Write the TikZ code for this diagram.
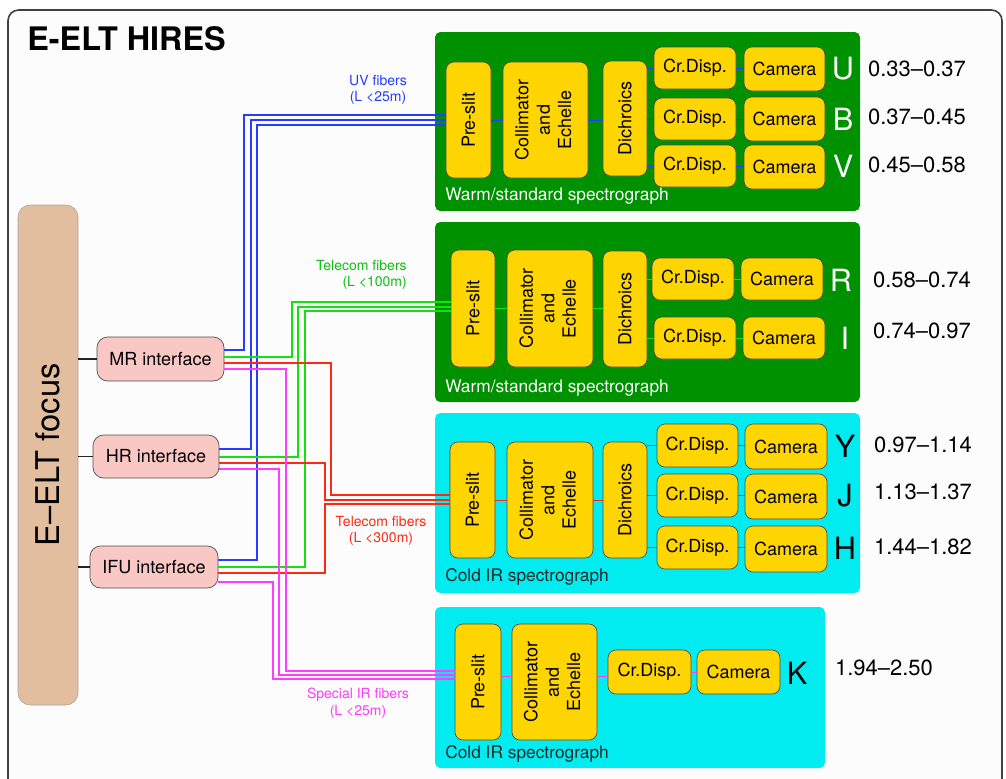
\documentclass[tikz,border=0pt]{standalone}
\usepackage{fontspec}
\setmainfont{TeX Gyre Heros}
\usepackage{graphicx}
\usetikzlibrary{calc}
\definecolor{ylw}{RGB}{255,213,0}
\definecolor{sgreen}{RGB}{0,145,0}
\definecolor{scyan}{RGB}{0,236,240}
\definecolor{ipink}{RGB}{250,200,196}
\definecolor{ftan}{RGB}{226,190,158}
\definecolor{fblue}{RGB}{40,60,255}
\definecolor{fgreen}{RGB}{20,225,20}
\definecolor{fred}{RGB}{255,40,20}
\definecolor{fmag}{RGB}{255,60,255}
\newcommand\mybox[7]{\node[#1, minimum width={(#4-#2)*0.75pt}, minimum height={(#5-#3)*0.75pt}] (#6) at ({(#2+#4)/2},{(#3+#5)/2}) {#7};}
\newcommand\vtxt[1]{\rotatebox{90}{#1}}
\begin{document}
\begin{tikzpicture}[x=0.75pt,y=-0.75pt,
  comp/.style={draw=black!70, line width=0.5pt, fill=ylw, rounded corners=6pt, inner sep=0pt, font=\fontsize{13.5}{16}\selectfont},
  specg/.style={fill=sgreen, rounded corners=4pt, inner sep=0pt},
  specc/.style={fill=scyan, rounded corners=4pt, inner sep=0pt},
  iface/.style={draw=black!70, line width=0.5pt, fill=ipink, rounded corners=8pt, inner sep=0pt, font=\fontsize{13.5}{16}\selectfont},
  focus/.style={draw=black!35, line width=0.4pt, fill=ftan, rounded corners=9pt, inner sep=0pt, font=\fontsize{24.5}{28}\selectfont},
  wlabel/.style={text=white, font=\fontsize{13}{15}\selectfont, inner sep=0pt, anchor=west},
  dlabel/.style={text=black!85, font=\fontsize{13}{15}\selectfont, inner sep=0pt, anchor=west},
  bigw/.style={text=white, font=\fontsize{23}{26}\selectfont, inner sep=0pt},
  bigk/.style={text=black, font=\fontsize{23}{26}\selectfont, inner sep=0pt},
  rng/.style={text=black, font=\fontsize{16.5}{19}\selectfont, inner sep=0pt},
  flabel/.style={font=\fontsize{10.5}{12.5}\selectfont, inner sep=0pt},
  fiber/.style={line width=1.2pt},
  iline/.style={line width=0.7pt},
  conn/.style={line width=1pt, black!85}
]
\useasboundingbox (0,0) rectangle (1006,778);
\clip (0,0) rectangle (1006,778);
\fill[white] (0,0) rectangle (1006,778);
\draw[black!75, line width=1.2pt, rounded corners=8pt, fill=black!1] (8,10) rectangle (1002,790);

% title
\node[font=\bfseries\fontsize{24.3}{28}\selectfont, inner sep=0pt, anchor=west] (ttl) at (27,39) {E-ELT HIRES};

% focus and interfaces
\mybox{focus}{18}{205}{78}{705}{foc}{\vtxt{E–ELT focus}}
\mybox{iface}{97}{337}{224}{381}{mr}{MR interface}
\mybox{iface}{93}{435}{219}{478}{hr}{HR interface}
\mybox{iface}{90}{546}{218}{588}{ifu}{IFU interface}
\draw[conn] (foc.east |- mr.west) -- (mr.west);
\draw[conn] (foc.east |- hr.west) -- (hr.west);
\draw[conn] (foc.east |- ifu.west) -- (ifu.west);

% spectrograph boxes
\mybox{specg}{435}{32}{860}{211}{s1}{}
\mybox{specg}{435}{222}{860}{402}{s2}{}
\mybox{specc}{435}{413}{860}{593}{s3}{}
\mybox{specc}{435}{607}{825}{768}{s4}{}
\node[wlabel] (s1l) at (445,196) {Warm/standard spectrograph};
\node[wlabel] (s2l) at (445,388) {Warm/standard spectrograph};
\node[dlabel] (s3l) at (445,577) {Cold IR spectrograph};
\node[dlabel] (s4l) at (445,754) {Cold IR spectrograph};

% box 1
\mybox{comp}{446}{62}{491}{178}{p1}{\vtxt{Pre-slit}}
\mybox{comp}{503}{62}{588}{178}{c1}{\vtxt{\begin{tabular}{@{}c@{}}Collimator\\and\\Echelle\end{tabular}}}
\mybox{comp}{603}{61}{647}{176}{d1}{\vtxt{Dichroics}}
\mybox{comp}{654}{47}{736}{89}{x1a}{Cr.Disp.}
\mybox{comp}{654}{98}{736}{140}{x1b}{Cr.Disp.}
\mybox{comp}{654}{145}{736}{187}{x1c}{Cr.Disp.}
\mybox{comp}{744}{47}{825}{91}{k1a}{Camera}
\mybox{comp}{744}{97}{825}{141}{k1b}{Camera}
\mybox{comp}{744}{145}{825}{189}{k1c}{Camera}
\node[bigw] (lu) at (843,69) {U};
\node[bigw] (lb) at (843,119) {B};
\node[bigw] (lv) at (843,166) {V};
\node[rng] (ru) at (917,69) {0.33–0.37};
\node[rng] (rb) at (917,117) {0.37–0.45};
\node[rng] (rv) at (917,165) {0.45–0.58};
\begin{scope}[iline, fblue]
\draw (p1.east |- 0,120) -- (c1.west |- 0,120);
\draw (c1.east |- 0,120) -- (d1.west |- 0,120);
\draw (d1.east |- x1a.west) -- (x1a.west);
\draw (d1.east |- x1b.west) -- (x1b.west);
\draw (d1.east |- x1c.west) -- (x1c.west);
\draw (x1a.east) -- (x1a.east -| k1a.west);
\draw (x1b.east) -- (x1b.east -| k1b.west);
\draw (x1c.east) -- (x1c.east -| k1c.west);
\end{scope}

% box 2
\mybox{comp}{451}{250}{495}{367}{p2}{\vtxt{Pre-slit}}
\mybox{comp}{507}{250}{593}{367}{c2}{\vtxt{\begin{tabular}{@{}c@{}}Collimator\\and\\Echelle\end{tabular}}}
\mybox{comp}{603}{251}{647}{367}{d2}{\vtxt{Dichroics}}
\mybox{comp}{652}{258}{734}{300}{x2a}{Cr.Disp.}
\mybox{comp}{654}{317}{736}{359}{x2b}{Cr.Disp.}
\mybox{comp}{741}{258}{823}{300}{k2a}{Camera}
\mybox{comp}{743}{317}{825}{359}{k2b}{Camera}
\node[bigw] (lr) at (841,280) {R};
\node[bigw] (li) at (845,338) {I};
\node[rng] (rr) at (922,280) {0.58–0.74};
\node[rng] (ri) at (922,331) {0.74–0.97};
\begin{scope}[iline, fgreen]
\draw (p2.east |- 0,308) -- (c2.west |- 0,308);
\draw (c2.east |- 0,308) -- (d2.west |- 0,308);
\draw (d2.east |- x2a.west) -- (x2a.west);
\draw (d2.east |- x2b.west) -- (x2b.west);
\draw (x2a.east) -- (x2a.east -| k2a.west);
\draw (x2b.east) -- (x2b.east -| k2b.west);
\end{scope}

% box 3
\mybox{comp}{450}{442}{495}{558}{p3}{\vtxt{Pre-slit}}
\mybox{comp}{507}{442}{593}{558}{c3}{\vtxt{\begin{tabular}{@{}c@{}}Collimator\\and\\Echelle\end{tabular}}}
\mybox{comp}{603}{442}{647}{558}{d3}{\vtxt{Dichroics}}
\mybox{comp}{657}{424}{738}{467}{x3a}{Cr.Disp.}
\mybox{comp}{657}{474}{738}{517}{x3b}{Cr.Disp.}
\mybox{comp}{657}{526}{738}{569}{x3c}{Cr.Disp.}
\mybox{comp}{745}{424}{827}{469}{k3a}{Camera}
\mybox{comp}{745}{474}{827}{519}{k3b}{Camera}
\mybox{comp}{745}{526}{827}{572}{k3c}{Camera}
\node[bigk] (ly) at (845,446) {Y};
\node[bigk] (lj) at (845,496) {J};
\node[bigk] (lh) at (845,548) {H};
\node[rng] (ry) at (923,445) {0.97–1.14};
\node[rng] (rj) at (923,492) {1.13–1.37};
\node[rng] (rh) at (923,547) {1.44–1.82};
\begin{scope}[iline, fred]
\draw (p3.east |- 0,500) -- (c3.west |- 0,500);
\draw (c3.east |- 0,500) -- (d3.west |- 0,500);
\draw (d3.east |- x3a.west) -- (x3a.west);
\draw (d3.east |- x3b.west) -- (x3b.west);
\draw (d3.east |- x3c.west) -- (x3c.west);
\draw (x3a.east) -- (x3a.east -| k3a.west);
\draw (x3b.east) -- (x3b.east -| k3b.west);
\draw (x3c.east) -- (x3c.east -| k3c.west);
\end{scope}

% box 4
\mybox{comp}{455}{624}{501}{740}{p4}{\vtxt{Pre-slit}}
\mybox{comp}{512}{624}{597}{740}{c4}{\vtxt{\begin{tabular}{@{}c@{}}Collimator\\and\\Echelle\end{tabular}}}
\mybox{comp}{608}{650}{691}{694}{x4}{Cr.Disp.}
\mybox{comp}{697}{650}{780}{694}{k4}{Camera}
\node[bigk] (lk) at (797,673) {K};
\node[rng] (rk) at (884,668) {1.94–2.50};
\begin{scope}[iline, fmag]
\draw (p4.east |- 0,676) -- (c4.west |- 0,676);
\draw (c4.east |- 0,676) -- (x4.west |- 0,676);
\draw (x4.east) -- (x4.east -| k4.west);
\end{scope}

% fibers
\begin{scope}[fiber, fblue]
\draw (mr.east |- 0,350) -| (244,115) -- (p1.west |- 0,115);
\draw (hr.east |- 0,449) -| (251,120) -- (p1.west |- 0,120);
\draw (ifu.east |- 0,560) -| (257,125) -- (p1.west |- 0,125);
\end{scope}
\begin{scope}[fiber, fgreen]
\draw (mr.east |- 0,357) -| (292,302) -- (p2.west |- 0,302);
\draw (hr.east |- 0,457) -| (298,307) -- (p2.west |- 0,307);
\draw (ifu.east |- 0,567) -| (305,311) -- (p2.west |- 0,311);
\end{scope}
\begin{scope}[fiber, fred]
\draw (mr.east |- 0,363) -| (331,495) -- (p3.west |- 0,495);
\draw (hr.east |- 0,463) -| (325,500) -- (p3.west |- 0,500);
\draw (ifu.east |- 0,573) -| (325,504) -- (p3.west |- 0,504);
\end{scope}
\begin{scope}[fiber, fmag]
\draw (mr.east |- 0,369) -| (286,671) -- (p4.west |- 0,671);
\draw (hr.east |- 0,469) -| (279,675) -- (p4.west |- 0,675);
\draw (ifu.east |- 0,582) -| (273,679) -- (p4.west |- 0,679);
\end{scope}

% fiber labels
\node[flabel, text=fblue, align=center] (uvl) at (378,90) {UV fibers\\(L <25m)};
\node[flabel, text=fgreen!85!black, align=right, anchor=east] (tgl) at (407,275) {Telecom fibers\\(L <100m)};
\node[flabel, text=fred, align=center] (trl) at (381,531) {Telecom fibers\\(L <300m)};
\node[flabel, text=fmag, align=center] (sil) at (358,703) {Special IR fibers\\(L <25m)};
\end{tikzpicture}
\end{document}
